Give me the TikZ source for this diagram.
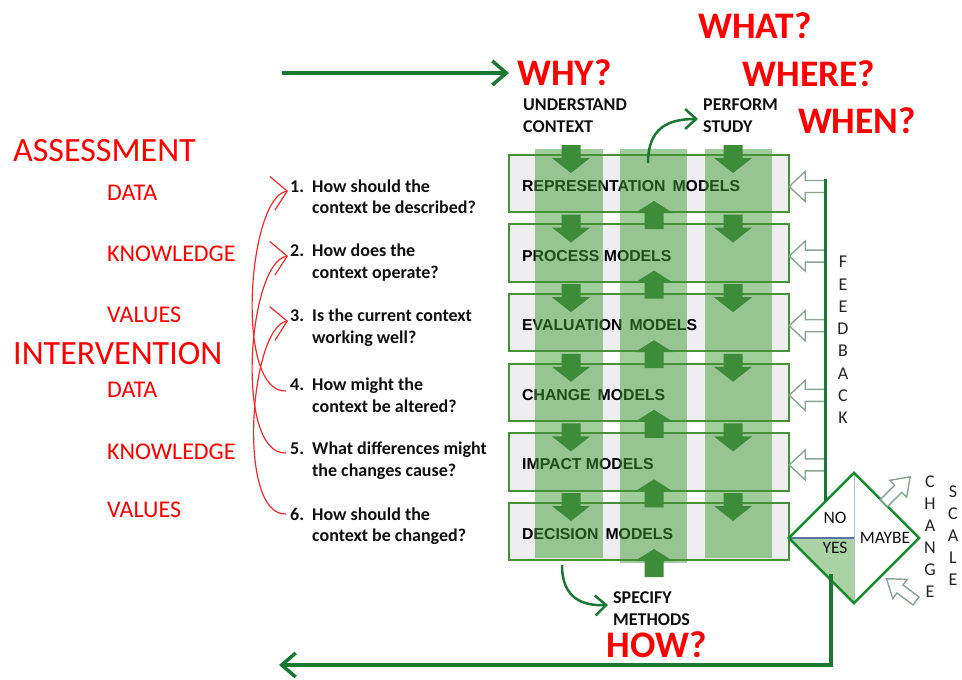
\documentclass[tikz,border=0pt]{standalone}
\usepackage{fontspec}
\setmainfont{Carlito}
\newfontfamily\arialfont{Liberation Sans}
\usetikzlibrary{arrows.meta,shapes.geometric,calc}
\definecolor{redtxt}{RGB}{255,0,0}
\definecolor{redline}{RGB}{245,40,40}
\definecolor{flowgreen}{RGB}{25,120,50}
\definecolor{boxgreen}{RGB}{70,145,55}
\definecolor{arrowgreen}{RGB}{61,140,58}
\definecolor{stripegreen}{RGB}{65,157,53}
\definecolor{boxgray}{RGB}{238,238,240}
\definecolor{hollowgray}{RGB}{135,165,145}
\definecolor{yesgreen}{RGB}{170,210,165}
\definecolor{darktxt}{RGB}{15,15,15}
\definecolor{lettergray}{RGB}{35,35,35}
\definecolor{diagline}{RGB}{175,190,205}
\definecolor{midline}{RGB}{90,115,160}
\begin{document}
\begin{tikzpicture}[x=1pt,y=-1pt,
  redbig/.style={text=redtxt, font=\fontsize{34}{40}\selectfont, inner sep=0pt, anchor=west},
  redsmall/.style={text=redtxt, font=\fontsize{24}{28}\selectfont, inner sep=0pt, anchor=west},
  question/.style={font=\bfseries\fontsize{18}{21.5}\selectfont, text=darktxt, align=left, inner sep=0pt, anchor=west},
  title/.style={text=redtxt, font=\bfseries\fontsize{37.5}{40}\selectfont, inner sep=0pt},
  action/.style={font=\bfseries\fontsize{18}{22}\selectfont, align=left, inner sep=0pt, anchor=west, text=darktxt},
  modelbox/.style={fill=boxgray, minimum width=280pt, minimum height=57pt, inner sep=0pt},
  modeltext/.style={font=\arialfont\bfseries\fontsize{15.8}{18}\selectfont, text=black, inner sep=0pt, anchor=west},
  boxborder/.style={draw=boxgreen, line width=2pt},
  stripe/.style={fill=stripegreen, fill opacity=0.5},
  blockarrow/.style={fill=arrowgreen},
  hollow/.style={draw=hollowgray, fill=white, line width=1.4pt, line join=miter},
  flow/.style={draw=flowgreen, line width=3.5pt, -{Straight Barb[length=14pt,width=24pt]}},
  fbline/.style={draw=flowgreen, line width=3pt},
  curvearrow/.style={draw=flowgreen, line width=2.5pt, -{Straight Barb[length=11pt,width=20pt]}},
  redcurve/.style={draw=redline, line width=1.2pt, -{Straight Barb[length=15pt,width=34pt]}},
  vletters/.style={font=\fontsize{18}{22}\selectfont, align=center, inner sep=0pt, text=lettergray},
  dtext/.style={font=\fontsize{17.5}{20}\selectfont, inner sep=0pt, text=darktxt},
  decision/.style={diamond, minimum width=130pt, minimum height=130pt, inner sep=0pt},
  diamondborder/.style={draw=flowgreen!85!green, line width=2.5pt, line join=miter}
]
\useasboundingbox (0,0) rectangle (962,680);

% left red labels
\node[redbig] (assess) at (13,151) {ASSESSMENT};
\node[redsmall] (d1) at (107,193) {DATA};
\node[redsmall] (k1) at (107,254) {KNOWLEDGE};
\node[redsmall] (v1) at (107,315) {VALUES};
\node[redbig] (interv) at (13,354) {INTERVENTION};
\node[redsmall] (d2) at (107,390) {DATA};
\node[redsmall] (k2) at (107,452) {KNOWLEDGE};
\node[redsmall] (v2) at (107,510) {VALUES};

% questions
\node[question] (q1) at (290,196.5) {\makebox[22pt][l]{1.}How should the\\\hspace*{22pt}context be described?};
\node[question] (q2) at (290,262.5) {\makebox[22pt][l]{2.}How does the\\\hspace*{22pt}context operate?};
\node[question] (q3) at (290,327.5) {\makebox[22pt][l]{3.}Is the current context\\\hspace*{22pt}working well?};
\node[question] (q4) at (290,395) {\makebox[22pt][l]{4.}How might the\\\hspace*{22pt}context be altered?};
\node[question] (q5) at (290,460.5) {\makebox[22pt][l]{5.}What differences might\\\hspace*{22pt}the changes cause?};
\node[question] (q6) at (290,526) {\makebox[22pt][l]{6.}How should the\\\hspace*{22pt}context be changed?};

% red curves
\coordinate (s4) at (286,391);
\coordinate (s5) at (286,453);
\coordinate (s6) at (286,514);
\coordinate (e1) at (288,191);
\coordinate (e2) at (288,256);
\coordinate (e3) at (288,321);
\draw[redcurve] (s4) .. controls (234,393) and (248,197) .. (e1);
\draw[redcurve] (s5) .. controls (234,455) and (248,262) .. (e2);
\draw[redcurve] (s6) .. controls (236,516) and (250,327) .. (e3);

% titles
\node[title, anchor=west] (why) at (517,73) {WHY?};
\node[title] (what) at (755,26) {WHAT?};
\node[title] (where) at (809,74) {WHERE?};
\node[title] (when) at (857,121) {WHEN?};
\node[title] (how) at (657,645) {HOW?};

\node[action] (understand) at (523,116) {UNDERSTAND\\CONTEXT};
\node[action] (perf) at (703,116) {PERFORM\\STUDY};
\node[action] (spec) at (613,609) {SPECIFY\\METHODS};

% model boxes
\node[modelbox] (rep) at (649,183.5) {};
\node[modelbox] (proc) at (649,253.1) {};
\node[modelbox] (eval) at (649,322.7) {};
\node[modelbox] (chgm) at (649,392.3) {};
\node[modelbox] (imp) at (649,461.9) {};
\node[modelbox] (dcs) at (649,531.5) {};
\node[modeltext] (repT) at (522,186) {REPRESENTATION\hspace{7pt}MODELS};
\node[modeltext] (procT) at (522,255.6) {PROCESS MODELS};
\node[modeltext] (evalT) at (522,325.2) {EVALUATION\hspace{7pt}MODELS};
\node[modeltext] (chgT) at (522,394.8) {CHANGE\hspace{7pt}MODELS};
\node[modeltext] (impT) at (522,464.4) {IMPACT MODELS};
\node[modeltext] (dcsT) at (522,534) {DECISION\hspace{7pt}MODELS};

% stripes
\fill[stripe] (535,149) rectangle (603,558);
\fill[stripe] (620,149) rectangle (687,563);
\fill[stripe] (705,149) rectangle (772,558);

\foreach \n in {rep,proc,eval,chgm,imp,dcs}
  \draw[boxborder] (\n.north west) rectangle (\n.south east);

% block arrows
\foreach \k in {0,...,5} {
  \pgfmathsetmacro\t{145+69.6*\k}
  \pgfmathsetmacro\u{201+69.6*\k}
  \foreach \cx in {571,733} {
    \fill[blockarrow] (\cx-9.5,\t) -- (\cx+9.5,\t) -- (\cx+9.5,\t+13) -- (\cx+19,\t+13)
      -- (\cx,\t+28) -- (\cx-19,\t+13) -- (\cx-9.5,\t+13) -- cycle;
  }
  \fill[blockarrow] (654,\u) -- (673,\u+12) -- (663.5,\u+12) -- (663.5,\u+28)
      -- (644.5,\u+28) -- (644.5,\u+12) -- (635,\u+12) -- cycle;
}

% feedback hollow arrows
\foreach \n in {rep,proc,eval,chgm,imp} {
  \draw[hollow] ($(\n.east)+(0,3)$) -- ++(16,-15) -- ++(0,9) -- ++(20,0) -- ++(0,12)
     -- ++(-20,0) -- ++(0,9) -- cycle;
}

% decision diamond
\node[decision] (dec) at (854,538) {};
\fill[yesgreen] (dec.west) -- (dec.center) -- (dec.south) -- cycle;
\draw[diagline, line width=1pt] (dec.north) -- (dec.south);
\draw[midline, line width=1.2pt] (dec.west) -- (dec.center);
\draw[diamondborder] (dec.north) -- (dec.east) -- (dec.south) -- (dec.west) -- cycle;
\node[dtext] (no) at (835,518) {NO};
\node[dtext] (yes) at (835,548) {YES};
\node[dtext] (maybe) at (885,538) {MAYBE};

% feedback line
\coordinate (fbtop) at (825,179);
\coordinate (fbend) at (825,501);
\draw[fbline] (fbtop) -- (fbend);
\node[vletters, font=\fontsize{18}{22.3}\selectfont] (fb) at (843,340) {F\\E\\E\\D\\B\\A\\C\\K};

% change scale arrows
\begin{scope}[shift={(884,503)}, rotate=45]
  \draw[hollow] (0,-5) -- (20,-5) -- (20,-12) -- (37,0) -- (20,12) -- (20,5) -- (0,5) -- cycle;
\end{scope}
\begin{scope}[shift={(916,601)}, rotate=143]
  \draw[hollow] (0,-5) -- (20,-5) -- (20,-12) -- (37,0) -- (20,12) -- (20,5) -- (0,5) -- cycle;
\end{scope}
\node[vletters] (changeL) at (930,537) {C\\H\\A\\N\\G\\E};
\node[vletters] (scaleL) at (953,536) {S\\C\\A\\L\\E};

% main flow arrows
\coordinate (whystart) at (282,73);
\draw[flow] (whystart) -- ([xshift=-8pt]why.west);
\coordinate (yesout) at (831,574);
\coordinate (howend) at (279,665);
\draw[flow] (yesout) |- (howend);

% curved arrows
\coordinate (perfstart) at (648,163);
\draw[curvearrow] (perfstart) .. controls (648,128) and (668,119) .. ([xshift=-5pt,yshift=-3pt]perf.west);
\coordinate (specstart) at (562,565);
\draw[curvearrow] (specstart) .. controls (562,598) and (582,606) .. ([xshift=-5pt,yshift=4pt]spec.west);
\end{tikzpicture}
\end{document}
